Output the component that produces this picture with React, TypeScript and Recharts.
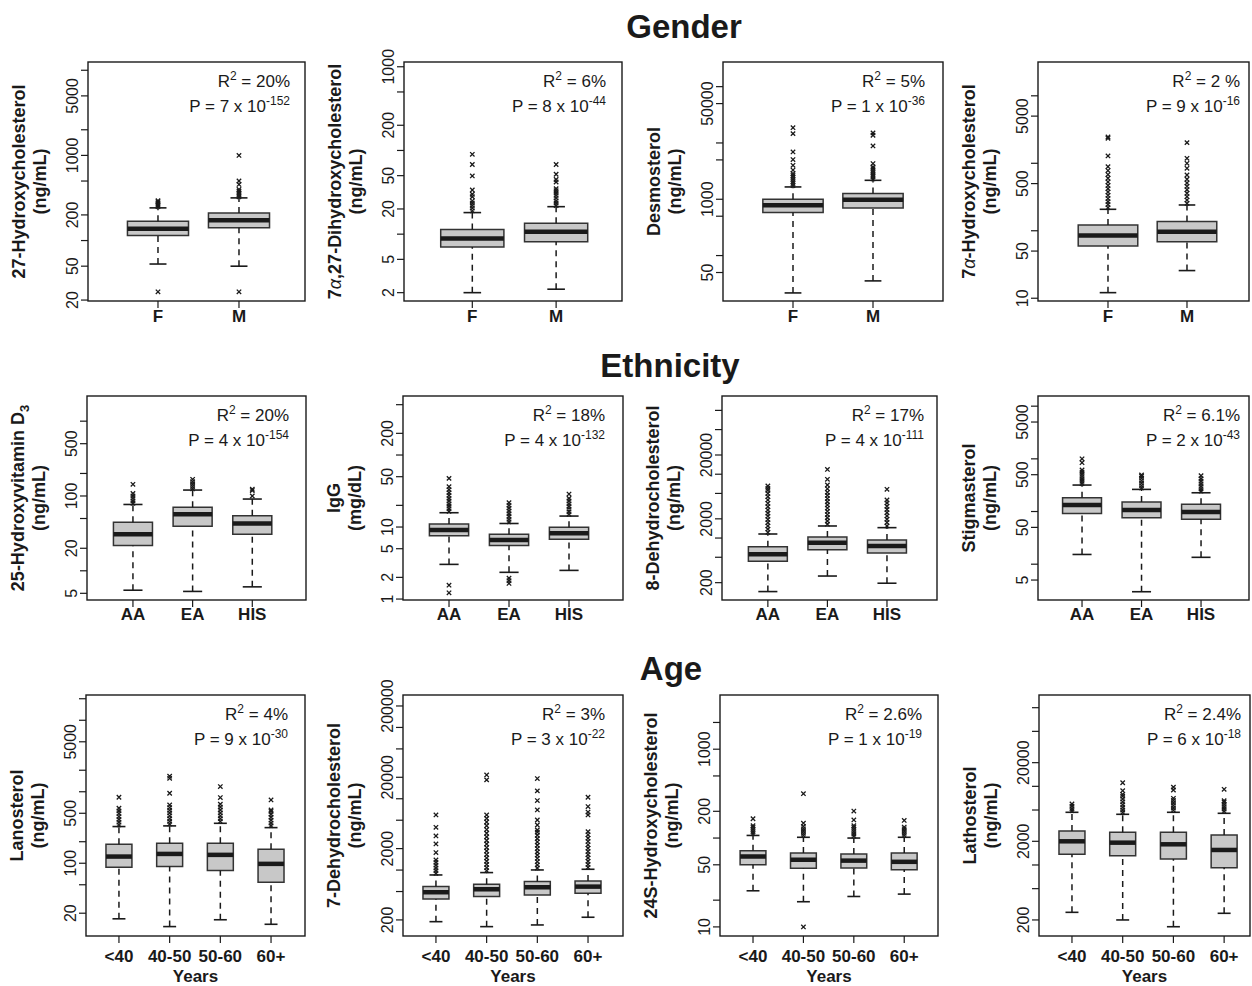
import React from 'react';
import { ComposedChart, XAxis, YAxis, Scatter, ReferenceArea, ReferenceLine } from 'recharts';

const FONT = '"Liberation Sans", Arial, Helvetica, sans-serif';
const INK = '#1a1a1a';
const BOX_FILL = '#c8c8c8';

const sexCats = ['F', 'M'];
const ethCats = ['AA', 'EA', 'HIS'];
const ageCats = ['<40', '40-50', '50-60', '60+'];

// box stats per group: [lower whisker, Q1, median, Q3, upper whisker]
const oh27Box = [[53, 115, 138, 168, 242], [50, 141, 173, 211, 317]];
const oh27Out = [[25, 250, 262, 274, 286, 294], [25, 326, 344, 362, 380, 398, 456, 500, 1000]];
const oh27Ticks = [20, 50, 100, 200, 500, 1000, 2000, 5000, 10000];
const oh27Labels = [20, 50, 200, 1000, 5000];

const diohBox = [[2.0, 7.0, 8.9, 11.4, 18.1], [2.2, 8.1, 10.7, 13.5, 21.3]];
const diohOut = [
  [19, 20.5, 22, 23.5, 25, 28, 30, 33.7, 49.6, 68, 90],
  [22, 23.5, 25, 27, 29, 31, 33, 35, 42, 45, 52, 68],
];
const diohTicks = [2, 5, 10, 20, 50, 100, 200, 500, 1000];
const diohLabels = [2, 5, 20, 50, 200, 1000];

const desmoBox = [[21.7, 580, 783, 1000, 1655], [35.5, 700, 985, 1260, 2170]];
const desmoOut = [
  [1750, 1900, 2050, 2250, 2450, 2650, 2860, 3300, 4010, 5060, 6920, 14650, 18710],
  [2300, 2500, 2700, 2950, 3200, 3500, 3750, 4300, 8850, 13700, 15100],
];
const desmoTicks = [50, 100, 500, 1000, 5000, 10000, 50000, 100000];
const desmoLabels = [50, 1000, 50000];

const oh7Box = [[12.1, 59.6, 85, 122, 208], [25.7, 69, 97, 137, 241]];
const oh7Out = [
  [220, 245, 270, 300, 335, 375, 420, 470, 530, 600, 680, 780, 890, 1285, 2346, 2450],
  [255, 285, 320, 360, 405, 455, 510, 580, 670, 843, 1000, 1186, 2024],
];
const oh7Ticks = [10, 50, 100, 500, 1000, 5000, 10000];
const oh7Labels = [10, 50, 500, 5000];

const vitdBox = [[5.5, 21.7, 30.7, 44.4, 77], [5.3, 39.3, 56.8, 70.5, 120], [6.1, 30.7, 43, 54.5, 91]];
const vitdOut = [[80, 86, 93, 100, 108, 143], [125, 134, 144, 155, 167], [100, 118, 123]];
const vitdTicks = [5, 10, 20, 50, 100, 200, 500, 1000];
const vitdLabels = [5, 20, 100, 500];

const iggBox = [[3.03, 7.58, 9.08, 11.0, 15.8], [2.35, 5.56, 6.6, 7.91, 11.2], [2.5, 6.74, 8.17, 9.9, 14.2]];
const iggOut = [
  [1.22, 1.56, 16.5, 18, 19.5, 21, 23, 25, 27.5, 30, 33, 36.3, 47.4],
  [1.65, 1.8, 1.95, 11.8, 12.8, 14, 15.3, 16.7, 18.3, 20, 21.8],
  [15, 16.3, 17.7, 19.3, 21, 23, 25, 28.7],
];
const iggTicks = [1, 2, 5, 10, 20, 50, 100, 200, 500];
const iggLabels = [1, 2, 5, 10, 50, 200];

const dhc8Box = [[145, 432, 556, 733, 1157], [254, 657, 847, 1038, 1545], [196, 583, 750, 932, 1455]];
const dhc8Out = [
  [1230, 1380, 1550, 1740, 1950, 2200, 2450, 2750, 3100, 3500, 3950, 4450, 5000, 5600, 6010, 6530],
  [1650, 1850, 2080, 2330, 2620, 2950, 3300, 3700, 4150, 4650, 5200, 5900, 6780, 8320, 11900],
  [1550, 1750, 1970, 2220, 2500, 2800, 3150, 3550, 3944, 5800],
];
const dhc8Ticks = [200, 500, 1000, 2000, 5000, 10000, 20000, 50000, 100000];
const dhc8Labels = [200, 2000, 20000];

const stigBox = [[15.3, 92, 133, 183, 318], [3.0, 76, 107, 151, 263], [13.5, 71, 98, 137, 227]];
const stigOut = [
  [340, 375, 415, 460, 510, 560, 614, 845, 1000],
  [280, 310, 345, 385, 430, 470, 493],
  [245, 270, 300, 335, 375, 420, 478],
];
const stigTicks = [5, 10, 50, 100, 500, 1000, 5000, 10000];
const stigLabels = [5, 50, 500, 5000];

const lanoBox = [[16.7, 88, 124, 184, 326], [13, 90, 135, 190, 333], [16.2, 79, 131, 190, 362], [14, 54, 98, 157, 315]];
const lanoOut = [
  [345, 375, 410, 450, 495, 540, 588, 837],
  [355, 385, 420, 460, 505, 550, 600, 654, 952, 1542, 1650],
  [385, 420, 460, 505, 555, 610, 668, 828, 1180],
  [335, 365, 400, 440, 485, 530, 557, 768],
];
const lanoTicks = [20, 50, 100, 200, 500, 1000, 2000, 5000, 10000, 20000];
const lanoLabels = [20, 100, 500, 5000];

const dhc7Box = [[189, 394, 489, 586, 854], [161, 425, 538, 632, 922], [170, 448, 574, 689, 1004], [218, 473, 586, 704, 1026]];
const dhc7Out = [
  [900, 980, 1070, 1170, 1280, 1387, 1760, 2325, 3010, 3980, 5930],
  [980, 1080, 1200, 1330, 1480, 1650, 1850, 2070, 2320, 2600, 2920, 3280, 3700, 4180, 4720, 5300, 5930, 18400, 21600],
  [1070, 1180, 1310, 1460, 1620, 1800, 2000, 2230, 2480, 2760, 3080, 3400, 3650, 4290, 5040, 6970, 9420, 12900, 19200],
  [1090, 1200, 1330, 1480, 1640, 1820, 2030, 2260, 2520, 2800, 3120, 3460, 5930, 6500, 7760, 10500],
];
const dhc7Ticks = [200, 500, 1000, 2000, 5000, 10000, 20000, 50000, 100000, 200000];
const dhc7Labels = [200, 2000, 20000, 200000];

const oh24Box = [[25.5, 50, 62, 72, 107], [19.2, 45.6, 57, 68, 102], [22, 46, 55.7, 66, 100], [23.4, 44, 54, 68, 102]];
const oh24Out = [
  [112, 118, 125, 132, 138, 165],
  [10, 107, 113, 120, 127, 135, 147, 316],
  [105, 111, 118, 125, 132, 138, 160, 201],
  [107, 113, 120, 127, 133, 158],
];
const oh24Ticks = [10, 20, 50, 100, 200, 500, 1000, 2000];
const oh24Labels = [10, 50, 200, 1000];

const lathoBox = [[250, 1367, 2000, 2705, 4675], [200, 1315, 1922, 2600, 4410], [164, 1191, 1832, 2600, 4675], [243, 925, 1552, 2410, 4540]];
const lathoOut = [
  [4900, 5200, 5600, 5970],
  [4650, 5000, 5400, 5850, 6350, 6900, 7500, 7910, 8810, 11100],
  [4950, 5300, 5700, 6150, 6600, 7040, 8990, 9770],
  [4800, 5150, 5500, 5900, 6300, 6570, 9160],
];
const lathoTicks = [200, 500, 1000, 2000, 5000, 10000, 20000, 50000, 100000];
const lathoLabels = [200, 2000, 20000];

// layout
const AXW = 40;
const AXH = 50;
const PAD_TOP = 34;
const PAD = 2;
const rows = [
  { top: 62, h: 239, labelDy: 12, boxHalf: 0.377, capHalf: 0.105 },
  { top: 396, h: 204, labelDy: 11, boxHalf: 0.327, capHalf: 0.16 },
  { top: 695, h: 241, labelDy: 17, boxHalf: 0.256, capHalf: 0.128 },
];

const alpha = <tspan fontStyle="italic" fontWeight="normal">α</tspan>;

const panels = [
  { row: 0, left: 88, w: 217, xDomain: [0.136, 2.815], yDomain: [19.5, 12500], cats: sexCats, box: oh27Box, out: oh27Out, ticks: oh27Ticks, labels: oh27Labels, title: <>27-Hydroxycholesterol</>, unit: '(ng/mL)', r2: '20%', p: ['7', '-152'] },
  { row: 0, left: 404, w: 218, xDomain: [0.185, 2.786], yDomain: [1.59, 1140], cats: sexCats, box: diohBox, out: diohOut, ticks: diohTicks, labels: diohLabels, title: <>7{alpha},27-Dihydroxycholesterol</>, unit: '(ng/mL)', r2: '6%', p: ['8', '-44'] },
  { row: 0, left: 723, w: 220, xDomain: [0.125, 2.875], yDomain: [15.6, 274000], cats: sexCats, box: desmoBox, out: desmoOut, ticks: desmoTicks, labels: desmoLabels, title: <>Desmosterol</>, unit: '(ng/mL)', r2: '5%', p: ['1', '-36'] },
  { row: 0, left: 1038, w: 211, xDomain: [0.114, 2.785], yDomain: [9.1, 31700], cats: sexCats, box: oh7Box, out: oh7Out, ticks: oh7Ticks, labels: oh7Labels, title: <>7{alpha}-Hydroxycholesterol</>, unit: '(ng/mL)', r2: '2 %', p: ['9', '-16'] },
  { row: 1, left: 87, w: 219, xDomain: [0.23, 3.9], yDomain: [4.07, 2170], cats: ethCats, box: vitdBox, out: vitdOut, ticks: vitdTicks, labels: vitdLabels, title: <>25-Hydroxyvitamin D<tspan dy={5} fontSize={13}>3</tspan></>, unit: '(ng/mL)', r2: '20%', p: ['4', '-154'] },
  { row: 1, left: 403, w: 220, xDomain: [0.233, 3.9], yDomain: [0.97, 660], cats: ethCats, box: iggBox, out: iggOut, ticks: iggTicks, labels: iggLabels, title: <>IgG</>, unit: '(mg/dL)', r2: '18%', p: ['4', '-132'] },
  { row: 1, left: 722, w: 215, xDomain: [0.23, 3.84], yDomain: [107, 168000], cats: ethCats, box: dhc8Box, out: dhc8Out, ticks: dhc8Ticks, labels: dhc8Labels, title: <>8-Dehydrocholesterol</>, unit: '(ng/mL)', r2: '17%', p: ['4', '-111'] },
  { row: 1, left: 1038, w: 211, xDomain: [0.26, 3.806], yDomain: [2.09, 15600], cats: ethCats, box: stigBox, out: stigOut, ticks: stigTicks, labels: stigLabels, title: <>Stigmasterol</>, unit: '(ng/mL)', r2: '6.1%', p: ['2', '-43'] },
  { row: 2, left: 86, w: 219, xDomain: [0.35, 4.67], yDomain: [9.6, 22560], cats: ageCats, box: lanoBox, out: lanoOut, ticks: lanoTicks, labels: lanoLabels, title: <>Lanosterol</>, unit: '(ng/mL)', r2: '4%', p: ['9', '-30'] },
  { row: 2, left: 403, w: 220, xDomain: [0.35, 4.69], yDomain: [119, 285000], cats: ageCats, box: dhc7Box, out: dhc7Out, ticks: dhc7Ticks, labels: dhc7Labels, title: <>7-Dehydrocholesterol</>, unit: '(ng/mL)', r2: '3%', p: ['3', '-22'] },
  { row: 2, left: 720, w: 218, xDomain: [0.345, 4.67], yDomain: [7.9, 4074], cats: ageCats, box: oh24Box, out: oh24Out, ticks: oh24Ticks, labels: oh24Labels, title: <>24S-Hydroxycholesterol</>, unit: '(ng/mL)', r2: '2.6%', p: ['1', '-19'] },
  { row: 2, left: 1039, w: 211, xDomain: [0.35, 4.51], yDomain: [125, 145000], cats: ageCats, box: lathoBox, out: lathoOut, ticks: lathoTicks, labels: lathoLabels, title: <>Lathosterol</>, unit: '(ng/mL)', r2: '2.4%', p: ['6', '-18'] },
];

const sections = [
  { text: 'Gender', x: 684, y: 38 },
  { text: 'Ethnicity', x: 670, y: 377 },
  { text: 'Age', x: 671, y: 680 },
];

const renderCross = (props: any) => {
  const { cx, cy } = props;
  if (cx == null || cy == null) return <g />;
  const s = 2.2;
  return (
    <path
      d={`M${cx - s},${cy - s}L${cx + s},${cy + s}M${cx - s},${cy + s}L${cx + s},${cy - s}`}
      stroke={INK}
      strokeWidth={1.3}
      fill="none"
    />
  );
};

function BoxPanel({ p }: { p: any }) {
  const row = rows[p.row];
  const points = p.out.flatMap((vals: number[], i: number) => vals.map((v) => ({ x: i + 1, v })));
  const xTicks = p.cats.map((_: string, i: number) => i + 1);
  const marks: any[] = [];
  p.box.forEach(([lo, q1, med, q3, hi]: number[], i: number) => {
    const c = i + 1;
    const bw = row.boxHalf;
    const cw = row.capHalf;
    marks.push(
      <ReferenceLine key={`wu${i}`} segment={[{ x: c, y: q3 }, { x: c, y: hi }]} stroke={INK} strokeWidth={1.5} strokeDasharray="6 5" />,
      <ReferenceLine key={`wl${i}`} segment={[{ x: c, y: lo }, { x: c, y: q1 }]} stroke={INK} strokeWidth={1.5} strokeDasharray="6 5" />,
      <ReferenceLine key={`cu${i}`} segment={[{ x: c - cw, y: hi }, { x: c + cw, y: hi }]} stroke={INK} strokeWidth={1.6} />,
      <ReferenceLine key={`cl${i}`} segment={[{ x: c - cw, y: lo }, { x: c + cw, y: lo }]} stroke={INK} strokeWidth={1.6} />,
      <ReferenceArea key={`b${i}`} x1={c - bw} x2={c + bw} y1={q1} y2={q3} fill={BOX_FILL} fillOpacity={1} stroke="#333" strokeWidth={1.5} />,
      <ReferenceLine key={`m${i}`} segment={[{ x: c - bw, y: med }, { x: c + bw, y: med }]} stroke={INK} strokeWidth={4.5} />
    );
  });
  return (
    <div style={{ position: 'absolute', left: p.left - AXW, top: row.top - PAD_TOP }}>
      <ComposedChart width={AXW + p.w + PAD} height={PAD_TOP + row.h + AXH} margin={{ top: PAD_TOP, right: PAD, bottom: 0, left: 0 }}>
        <XAxis
          type="number"
          dataKey="x"
          domain={p.xDomain}
          allowDataOverflow
          ticks={xTicks}
          interval={0}
          height={AXH}
          tickSize={7}
          axisLine={false}
          tickLine={{ stroke: INK, strokeWidth: 1.2 }}
          tick={(t: any) => (
            <text x={t.x} y={t.y + row.labelDy} textAnchor="middle" fontSize={17} fontWeight="bold" fontFamily={FONT} fill={INK}>
              {p.cats[Math.round(t.payload.value) - 1]}
            </text>
          )}
        />
        <YAxis
          type="number"
          dataKey="v"
          scale="log"
          domain={p.yDomain}
          allowDataOverflow
          ticks={p.ticks}
          interval={0}
          width={AXW}
          tickSize={7}
          axisLine={false}
          tickLine={{ stroke: INK, strokeWidth: 1.2 }}
          tick={(t: any) =>
            p.labels.includes(t.payload.value) ? (
              <text
                x={t.x - 1}
                y={t.y}
                transform={`rotate(-90 ${t.x - 1} ${t.y})`}
                textAnchor="middle"
                fontSize={16}
                fontFamily={FONT}
                fill={INK}
              >
                {t.payload.value}
              </text>
            ) : (
              <g />
            )
          }
        />
        {marks}
        <Scatter data={points} shape={renderCross} isAnimationActive={false} />
      </ComposedChart>
    </div>
  );
}

export default function App() {
  return (
    <div style={{ position: 'absolute', left: 0, top: 0, width: 1252, height: 986, background: '#fff', fontFamily: FONT, overflow: 'hidden' }}>
      {panels.map((p, i) => (
        <BoxPanel key={i} p={p} />
      ))}
      <svg width={1252} height={986} style={{ position: 'absolute', left: 0, top: 0, pointerEvents: 'none' }} fontFamily={FONT}>
        {sections.map((s) => (
          <text key={s.text} x={s.x} y={s.y} textAnchor="middle" fontSize={33} fontWeight="bold" fill={INK}>
            {s.text}
          </text>
        ))}
        {panels.map((p, i) => {
          const row = rows[p.row];
          const cy = row.top + row.h / 2;
          const ax = p.left + 202;
          return (
            <g key={i}>
              <rect x={p.left} y={row.top} width={p.w} height={row.h} fill="none" stroke={INK} strokeWidth={1.4} />
              <text transform={`translate(${p.left - 63},${cy}) rotate(-90)`} textAnchor="middle" fontSize={18} fontWeight="bold" fill={INK}>
                {p.title}
              </text>
              <text transform={`translate(${p.left - 42},${cy}) rotate(-90)`} textAnchor="middle" fontSize={18} fontWeight="bold" fill={INK}>
                {p.unit}
              </text>
              <text x={ax} y={row.top + 25} textAnchor="end" fontSize={17} fill={INK}>
                R<tspan dy={-7} fontSize={12}>2</tspan>
                <tspan dy={7}>{' = ' + p.r2}</tspan>
              </text>
              <text x={ax} y={row.top + 50} textAnchor="end" fontSize={17} fill={INK}>
                {'P = ' + p.p[0] + ' x 10'}
                <tspan dy={-7} fontSize={12}>{p.p[1]}</tspan>
              </text>
              {p.row === 2 && (
                <text x={p.left + p.w / 2} y={row.top + row.h + 46} textAnchor="middle" fontSize={17} fontWeight="bold" fill={INK}>
                  Years
                </text>
              )}
            </g>
          );
        })}
      </svg>
    </div>
  );
}
